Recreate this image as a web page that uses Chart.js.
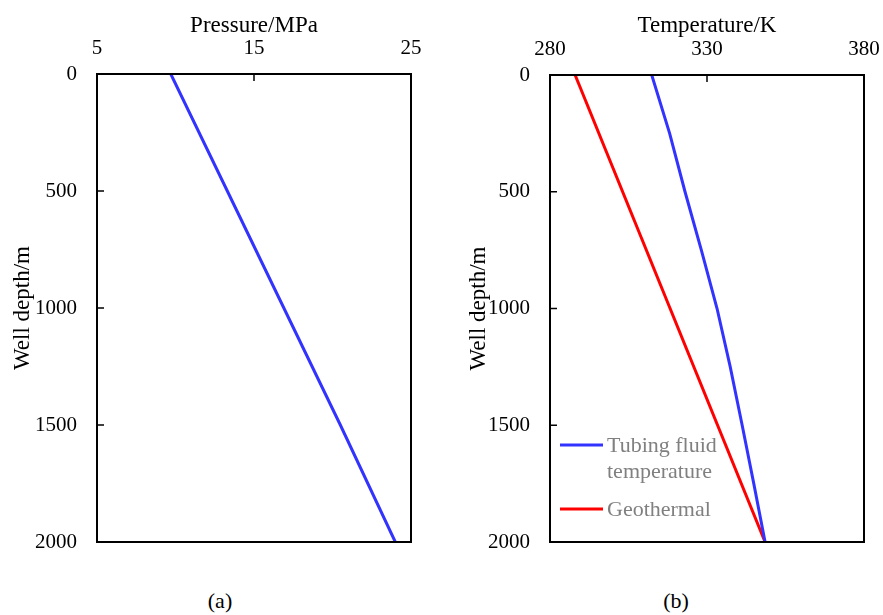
<!DOCTYPE html>
<html>
<head>
<meta charset="utf-8">
<script src="https://cdn.jsdelivr.net/npm/chart.js@4.4.1/dist/chart.umd.min.js"></script>
<style>
  body { margin: 0; background: #fff; }
  #wrap { position: relative; width: 883px; height: 615px; }
  canvas { position: absolute; top: 0; }
  .cap { position: absolute; top: 588px; font: 22px "Liberation Serif", "Times New Roman", serif; color: #000; transform: translateX(-50%); }
</style>
</head>
<body>
<div id="wrap">
  <canvas id="chartA" width="441" height="570" style="left:0"></canvas>
  <canvas id="chartB" width="442" height="570" style="left:441px"></canvas>
  <div class="cap" style="left:220px">(a)</div>
  <div class="cap" style="left:676px">(b)</div>
</div>
<script>
// depth samples (m)
const depthA = [0, 500, 1000, 1500, 2000];
const pressure = [9.7, 13.3, 16.9, 20.5, 24.0];

const depthB = [0, 250, 500, 750, 1000, 1250, 1500, 1750, 2000];
const tubingTemp = [312.4, 318.1, 323.0, 328.2, 333.2, 337.4, 341.2, 344.9, 348.5];
const geoDepth = [0, 2000];
const geothermal = [288.0, 348.5];

const legendLines = [['Tubing fluid', 'temperature'], ['Geothermal']];

const serif = '"Liberation Serif", "Times New Roman", serif';
Chart.defaults.font.family = serif;
Chart.defaults.color = '#000';

function pts(xs, ys) {
  return ys.map((d, i) => ({ x: xs[i], y: d }));
}

// frame + inward ticks
const framePlugin = {
  id: 'frame',
  afterDraw(chart) {
    const { ctx, chartArea: a, scales } = chart;
    ctx.save();
    ctx.strokeStyle = '#000';
    ctx.lineWidth = 2;
    ctx.strokeRect(a.left, a.top, a.right - a.left, a.bottom - a.top);
    ctx.lineWidth = 1.5;
    ctx.beginPath();
    scales.x.ticks.forEach(t => {
      const px = scales.x.getPixelForValue(t.value);
      ctx.moveTo(px, a.top);
      ctx.lineTo(px, a.top + 7);
    });
    scales.y.ticks.forEach(t => {
      const py = scales.y.getPixelForValue(t.value);
      ctx.moveTo(a.left, py);
      ctx.lineTo(a.left + 7, py);
    });
    ctx.stroke();
    ctx.restore();
  }
};

const legendPlugin = {
  id: 'innerLegend',
  afterDraw(chart) {
    if (!chart.options.plugins.innerLegend.show) return;
    const { ctx, chartArea: a } = chart;
    const rows = [a.bottom - 97, a.bottom - 33];
    ctx.save();
    ctx.font = '22px ' + serif;
    ctx.textBaseline = 'middle';
    ctx.fillStyle = '#808080';
    chart.data.datasets.forEach((ds, i) => {
      const y = rows[i];
      ctx.strokeStyle = ds.borderColor;
      ctx.lineWidth = 3;
      ctx.beginPath();
      ctx.moveTo(a.left + 10, y);
      ctx.lineTo(a.left + 53, y);
      ctx.stroke();
      legendLines[i].forEach((txt, j) => {
        ctx.fillText(txt, a.left + 57, y + 1 + j * 26);
      });
    });
    ctx.restore();
  }
};

function noPad(s) {
  s.paddingLeft = 0; s.paddingRight = 0; s.paddingTop = 0; s.paddingBottom = 0;
}

function makeChart(id, datasets, xTitle, xMin, xMax, xStep, yWidth, xHeight, padRight, yTitlePad, showLegend) {
  return new Chart(document.getElementById(id), {
    type: 'scatter',
    data: { datasets: datasets },
    options: {
      responsive: false,
      animation: false,
      layout: { padding: { left: 0, right: padRight, top: 0, bottom: 28 } },
      plugins: { legend: { display: false }, tooltip: { enabled: false }, innerLegend: { show: showLegend } },
      scales: {
        x: {
          type: 'linear', position: 'top', min: xMin, max: xMax,
          grid: { display: false, drawTicks: false }, border: { display: false },
          ticks: { stepSize: xStep, padding: 13, font: { size: 21 }, callback: v => String(v) },
          title: { display: true, text: xTitle, font: { size: 23 }, padding: { top: 12, bottom: 0 } },
          afterFit(s) { s.height = xHeight; noPad(s); }
        },
        y: {
          type: 'linear', reverse: true, min: 0, max: 2000,
          grid: { display: false, drawTicks: false }, border: { display: false },
          ticks: { stepSize: 500, padding: 20, font: { size: 21 }, callback: v => String(v) },
          title: { display: true, text: 'Well depth/m', font: { size: 23 }, padding: { top: yTitlePad, bottom: 0 } },
          afterFit(s) { s.width = yWidth; noPad(s); }
        }
      }
    },
    plugins: [framePlugin, legendPlugin]
  });
}

makeChart('chartA', [{
  label: 'Pressure',
  data: pts(pressure, depthA),
  showLine: true, borderColor: '#3333ff', borderWidth: 3, pointRadius: 0, fill: false
}], 'Pressure/MPa', 5, 25, 10, 97, 74, 30, 9, false);

makeChart('chartB', [{
  label: 'Tubing fluid temperature',
  data: pts(tubingTemp, depthB),
  showLine: true, borderColor: '#3333ff', borderWidth: 3, pointRadius: 0, fill: false
}, {
  label: 'Geothermal',
  data: pts(geothermal, geoDepth),
  showLine: true, borderColor: '#ff0000', borderWidth: 3, pointRadius: 0, fill: false
}], 'Temperature/K', 280, 380, 50, 109, 75, 19, 24, true);
</script>
</body>
</html>
